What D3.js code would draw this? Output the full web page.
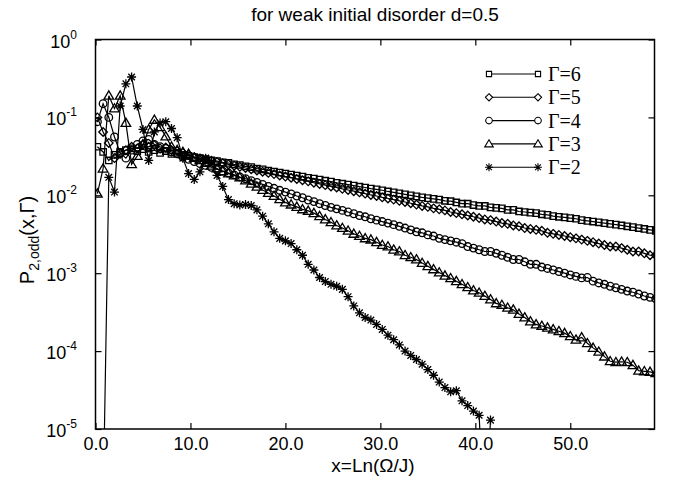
<!DOCTYPE html>
<html><head><meta charset="utf-8">
<script src="https://cdn.jsdelivr.net/npm/d3@7"></script>
<style>body{margin:0;background:#fff} svg{display:block}</style>
</head><body><svg id="c" width="673" height="483"></svg>
<script>
const xs = [0.2,0.8,1.4,2.0,2.6,3.2,3.8,4.4,5.0,5.6,
6.2,6.8,7.4,8.0,8.6,9.2,9.8,10.4,11.0,11.6,
12.2,12.8,13.4,14.0,14.6,15.2,15.8,16.4,17.0,17.6,
18.2,18.8,19.4,20.0,20.6,21.2,21.8,22.4,23.0,23.6,
24.2,24.8,25.4,26.0,26.6,27.2,27.8,28.4,29.0,29.6,
30.2,30.8,31.4,32.0,32.6,33.2,33.8,34.4,35.0,35.6,
36.2,36.8,37.4,38.0,38.6,39.2,39.8,40.4,41.0,41.6,
42.2,42.8,43.4,44.0,44.6,45.2,45.8,46.4,47.0,47.6,
48.2,48.8,49.4,50.0,50.6,51.2,51.8,52.4,53.0,53.6,
54.2,54.8,55.4,56.0,56.6,57.2,57.8,58.4,59.0];

const gamma6 = [0.042,0.036,0.028,0.033,0.036,0.038,0.040,0.037,0.039,0.036,
0.038,0.035,0.037,0.034,0.035,0.033,0.032,0.031,0.030,0.029,
0.028,0.0275,0.0265,0.026,0.025,0.0245,0.0235,0.023,0.022,0.0215,
0.0208,0.0202,0.0196,0.0190,0.0185,0.0179,0.0174,0.0168,0.0164,0.0159,
0.0154,0.0150,0.0145,0.0141,0.0137,0.0133,0.0129,0.0126,0.0122,0.0119,
0.0116,0.0112,0.0109,0.0106,0.0103,0.0100,0.0097,0.0094,0.0092,0.0090,
0.0088,0.0085,0.0084,0.0081,0.0078,0.0078,0.0075,0.0073,0.0073,0.0070,
0.0069,0.0068,0.0065,0.0065,0.0062,0.0061,0.0060,0.0059,0.0057,0.0056,
0.0054,0.0053,0.0052,0.0051,0.0050,0.0048,0.0047,0.0046,0.0045,0.0044,
0.0043,0.0042,0.0041,0.0040,0.0039,0.0038,0.0037,0.0036,0.0035];

const gamma5 = [0.10,0.065,0.047,0.030,0.034,0.038,0.042,0.040,0.045,0.042,
0.044,0.040,0.041,0.038,0.037,0.035,0.033,0.0309,0.0298,0.0287,
0.0277,0.0267,0.0258,0.0249,0.0240,0.0232,0.0224,0.0216,0.0208,0.0201,
0.0194,0.0187,0.0180,0.0174,0.0168,0.0162,0.0156,0.0151,0.0145,0.0140,
0.0135,0.0130,0.0126,0.0121,0.0117,0.0113,0.0109,0.0105,0.0101,0.0098,
0.0094,0.0091,0.0088,0.0085,0.0082,0.0079,0.0076,0.0073,0.0071,0.0068,
0.0066,0.0064,0.0061,0.0059,0.0057,0.0055,0.0053,0.0051,0.0049,0.0048,
0.0046,0.0044,0.0043,0.0041,0.0040,0.0038,0.0037,0.0036,0.0035,0.0033,
0.0032,0.0031,0.0030,0.0029,0.0028,0.0027,0.0026,0.0025,0.0024,0.0023,
0.0022,0.0022,0.0021,0.0020,0.0019,0.0019,0.0018,0.0017,0.0017];

const gamma4 = [0.088,0.15,0.10,0.056,0.035,0.030,0.038,0.045,0.050,0.052,
0.045,0.042,0.040,0.036,0.034,0.031,0.029,0.0271,0.0256,0.0242,
0.0229,0.0216,0.0204,0.0193,0.0183,0.0172,0.0163,0.0154,0.0146,0.0138,
0.0130,0.0123,0.0116,0.0110,0.0104,0.0098,0.0093,0.0087,0.0083,0.0078,
0.0074,0.0070,0.0067,0.0064,0.0061,0.0058,0.0055,0.0053,0.0050,0.0048,
0.0046,0.0044,0.0042,0.0040,0.0038,0.0036,0.0034,0.0033,0.0031,0.0030,
0.0028,0.0027,0.0026,0.0025,0.0024,0.0022,0.0021,0.0020,0.0019,0.0019,
0.0018,0.0017,0.0016,0.0015,0.0015,0.0014,0.0013,0.0013,0.0012,0.00115,
0.0011,0.00105,0.0010,0.00095,0.00091,0.00087,0.00088,0.00079,0.00075,0.00072,
0.00068,0.00065,0.00062,0.00059,0.00057,0.00054,0.00051,0.00049,0.00047];

const gamma3 = [0.0105,0.022,0.19,0.13,0.19,0.085,0.025,0.032,0.045,0.070,
0.093,0.075,0.057,0.042,0.038,0.036,0.034,0.0302,0.0282,0.0260,
0.0240,0.0221,0.0204,0.0191,0.0180,0.0170,0.0155,0.0141,0.0129,0.0117,
0.0107,0.0098,0.0089,0.0081,0.0076,0.0071,0.0066,0.0063,0.0059,0.0054,
0.0049,0.0045,0.0041,0.0038,0.0035,0.0032,0.0030,0.0028,0.0027,0.0025,
0.0023,0.0022,0.0020,0.0019,0.0017,0.0016,0.0015,0.00135,0.00123,0.00112,
0.00102,0.00093,0.00086,0.00079,0.00072,0.00066,0.00060,0.00056,0.00051,0.00046,
0.00041,0.00039,0.00036,0.00034,0.00030,0.00027,0.00024,0.00022,0.00021,0.00020,
0.00019,0.00018,0.00017,0.000155,0.00014,0.00015,0.000126,0.00011,0.000098,0.000085,
0.000074,0.000072,0.000073,0.000072,0.000066,0.000056,0.000055,0.000054,0.000052];

// null = no point at that x
const gamma2 = [null,1e-6,0.017,0.011,0.14,0.27,0.33,0.14,0.070,0.028,
0.065,0.085,0.088,0.072,0.055,0.030,0.019,0.016,0.020,0.030,
0.027,0.018,0.013,0.0088,0.0078,0.0075,0.0076,0.0074,0.0065,0.0054,
0.0043,0.0034,0.0028,0.0026,0.0024,0.0020,0.0017,0.0013,0.0011,0.00088,
0.00078,0.00072,0.00068,0.00062,0.00050,0.00038,0.00031,0.00027,0.00025,0.00022,
0.00019,0.00016,0.00014,0.00012,0.000100,0.000088,0.000078,0.000068,0.000058,0.000049,
0.000040,0.000034,0.000030,0.000031,0.000023,0.000020,0.000017,0.000015,5e-7,0.000013];

const seriesLabels = ["Γ=6","Γ=5","Γ=4","Γ=3","Γ=2"];
const seriesMarkers = ["square","diamond","circle","triangle","star"];
const seriesValues = [gamma6,gamma5,gamma4,gamma3,gamma2];
const xTicks = [0,10,20,30,40,50];
const yTicks = [1e-5,1e-4,1e-3,1e-2,1e-1,1];
const yTickExps = ["-5","-4","-3","-2","-1","0"];

const L=95.5, R=654.5, T=39.5, B=429;
const svg = d3.select("#c");
const x = d3.scaleLinear().domain([0,58.87]).range([L,R]);
const y = d3.scaleLog().domain([1e-5,1]).range([B,T]);

const markerPath = {
  square: "M-3.2,-3.2h6.4v6.4h-6.4Z",
  diamond: "M0,-4.3L4.3,0L0,4.3L-4.3,0Z",
  circle: "M3.8,0A3.8,3.8 0 1 1 -3.8,0A3.8,3.8 0 1 1 3.8,0Z",
  triangle: "M0,-4.8L4.8,3.4L-4.8,3.4Z",
  star: "M-4.5,0H4.5M0,-4.5V4.5M-3.3,-3.3L3.3,3.3M-3.3,3.3L3.3,-3.3"
};
const legendMarkerPath = {
  square: "M-2.6,-2.6h5.2v5.2h-5.2Z",
  diamond: "M0,-3.6L3.6,0L0,3.6L-3.6,0Z",
  circle: "M3.3,0A3.3,3.3 0 1 1 -3.3,0A3.3,3.3 0 1 1 3.3,0Z",
  triangle: "M0,-4.2L4.3,3L-4.3,3Z",
  star: "M-4,0H4M0,-4V4M-2.9,-2.9L2.9,2.9M-2.9,2.9L2.9,-2.9"
};

svg.append("defs").append("clipPath").attr("id","clip")
  .append("rect").attr("x",L).attr("y",T).attr("width",R-L).attr("height",B-T);

const plot = svg.append("g").attr("clip-path","url(#clip)");
const line = d3.line().defined(d=>d[1]!=null).x(d=>x(d[0])).y(d=>y(d[1]));

seriesValues.forEach((vals,k)=>{
  const pts = vals.map((v,i)=>[xs[i],v]);
  plot.append("path").attr("d",line(pts)).attr("fill","none")
    .attr("stroke","#000").attr("stroke-width",1.2);
  plot.selectAll(null).data(pts.filter(d=>d[1]!=null)).enter().append("path")
    .attr("d",markerPath[seriesMarkers[k]])
    .attr("transform",d=>`translate(${x(d[0])},${y(d[1])})`)
    .attr("fill","none").attr("stroke","#000").attr("stroke-width",1.3);
});

// axes (ticks inward)
const axG = svg.append("g");
const axBottom = axG.append("g").attr("transform",`translate(0,${B})`)
  .call(d3.axisBottom(x).tickValues(xTicks).tickSize(-6).tickPadding(8).tickFormat(d3.format(".1f")));
const axTop = axG.append("g").attr("transform",`translate(0,${T})`)
  .call(d3.axisTop(x).tickValues(xTicks).tickSize(-6).tickFormat(""));
const axLeft = axG.append("g").attr("transform",`translate(${L},0)`)
  .call(d3.axisLeft(y).tickValues(yTicks).tickSize(-6).tickFormat(""));
const axRight = axG.append("g").attr("transform",`translate(${R},0)`)
  .call(d3.axisRight(y).tickValues(yTicks).tickSize(-6).tickFormat(""));
[axBottom,axTop,axLeft,axRight].forEach(g=>{
  g.select(".domain").remove();
  g.selectAll(".tick line").attr("stroke","#000").attr("stroke-width",1.2);
});
axBottom.selectAll(".tick text").attr("font-size",18).attr("fill","#000")
  .attr("font-family","'Liberation Sans', Arial, sans-serif");

svg.append("rect").attr("x",L).attr("y",T).attr("width",R-L).attr("height",B-T)
  .attr("fill","none").attr("stroke","#000").attr("stroke-width",1.5);

// y tick labels with superscripts
yTicks.forEach((t,i)=>{
  const tx = svg.append("text").attr("x",77).attr("y",y(t)+8)
    .attr("text-anchor","end").attr("font-family","'Liberation Sans', Arial, sans-serif")
    .attr("font-size",18).attr("fill","#000");
  tx.append("tspan").text("10");
  tx.append("tspan").attr("dy",-9).attr("font-size",12).text(yTickExps[i]);
});

// title
svg.append("text").attr("x",375).attr("y",21).attr("text-anchor","middle")
  .attr("font-family","'Liberation Sans', Arial, sans-serif").attr("font-size",19)
  .text("for weak initial disorder d=0.5");

// x axis title
svg.append("text").attr("x",373).attr("y",472).attr("text-anchor","middle")
  .attr("font-family","'Liberation Sans', Arial, sans-serif").attr("font-size",19)
  .text("x=Ln(Ω/J)");

// y axis title
const yt = svg.append("text").attr("transform","translate(34,240) rotate(-90)")
  .attr("text-anchor","middle").attr("font-family","'Liberation Sans', Arial, sans-serif")
  .attr("font-size",20);
yt.append("tspan").text("P");
yt.append("tspan").attr("dy",5).attr("font-size",14).text("2,odd");
yt.append("tspan").attr("dy",-5).text("(x,Γ)");

// legend
const leg = svg.append("g");
seriesLabels.forEach((lab,k)=>{
  const yy = 74 + k*23.3;
  leg.append("line").attr("x1",489).attr("x2",538).attr("y1",yy).attr("y2",yy)
    .attr("stroke","#000").attr("stroke-width",1.1);
  [489,538].forEach(xx=>{
    leg.append("path").attr("d",legendMarkerPath[seriesMarkers[k]])
      .attr("transform",`translate(${xx},${yy})`)
      .attr("fill","#fff").attr("stroke","#000").attr("stroke-width",1.1);
  });
  leg.append("text").attr("x",548).attr("y",yy+7)
    .attr("font-family","'Liberation Serif', 'Times New Roman', serif").attr("font-size",20)
    .text(lab);
});
</script></body></html>
